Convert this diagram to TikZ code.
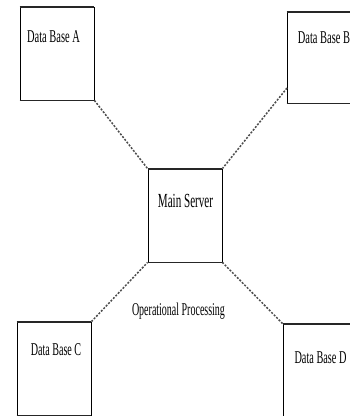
\documentclass[tikz,border=0pt]{standalone}
\usepackage{fontspec}
\setmainfont{Liberation Serif}
\usepackage{graphicx}
\newcommand{\lbltext}[3]{\scalebox{#2}[1]{\fontsize{#1}{#1}\selectfont #3}}
\begin{document}
\begin{tikzpicture}[x=1pt,y=-1pt,
  box/.style={draw=black, line width=0.8pt, fill=white, minimum width=74pt, minimum height=93pt, inner sep=0pt},
  edgeline/.style={line width=1.8pt, black!85},
  link/.style={line width=1.5pt, black!70, dash pattern=on 2pt off 1.5pt},
  lbl/.style={anchor=base, inner sep=0pt}]
\useasboundingbox (0,0) rectangle (350,416);
\clip (0,0) rectangle (350,416);
% boxes
\node[box] (A) at (57,53.5) {};
\node[box, minimum width=66pt, minimum height=91pt] (B) at (320,57.5) {};
\node[box] (M) at (185,215.5) {};
\node[box] (C) at (54,368.5) {};
\node[box, minimum width=70pt, minimum height=94pt] (D) at (318,371) {};
% thick top and bottom edges
\foreach \n in {A,B,M,C,D}{
  \draw[edgeline] (\n.north west) -- (\n.north east);
  \draw[edgeline] (\n.south west) -- (\n.south east);
}
% labels
\node[lbl] (tA) at (53.5,42) {\lbltext{18}{0.58}{Data Base A}};
\node[lbl] (tB) at (324,43) {\lbltext{18}{0.58}{Data Base B}};
\node[lbl] (tM) at (185.5,207) {\lbltext{20}{0.555}{Main Server}};
\node[lbl] (tC) at (56,355) {\lbltext{18}{0.56}{Data Base C}};
\node[lbl] (tD) at (320.5,363) {\lbltext{18}{0.57}{Data Base D}};
\node[lbl] (tO) at (178.5,315) {\lbltext{18}{0.555}{Operational Processing}};
% connectors
\coordinate (Bp) at (287,88);
\draw[link] (A.south east) -- (M.north west);
\draw[link] (Bp) -- (M.north east);
\draw[link] (C.north east) -- (M.south west);
\draw[link] (D.north west) -- (M.south east);
\end{tikzpicture}
\end{document}
